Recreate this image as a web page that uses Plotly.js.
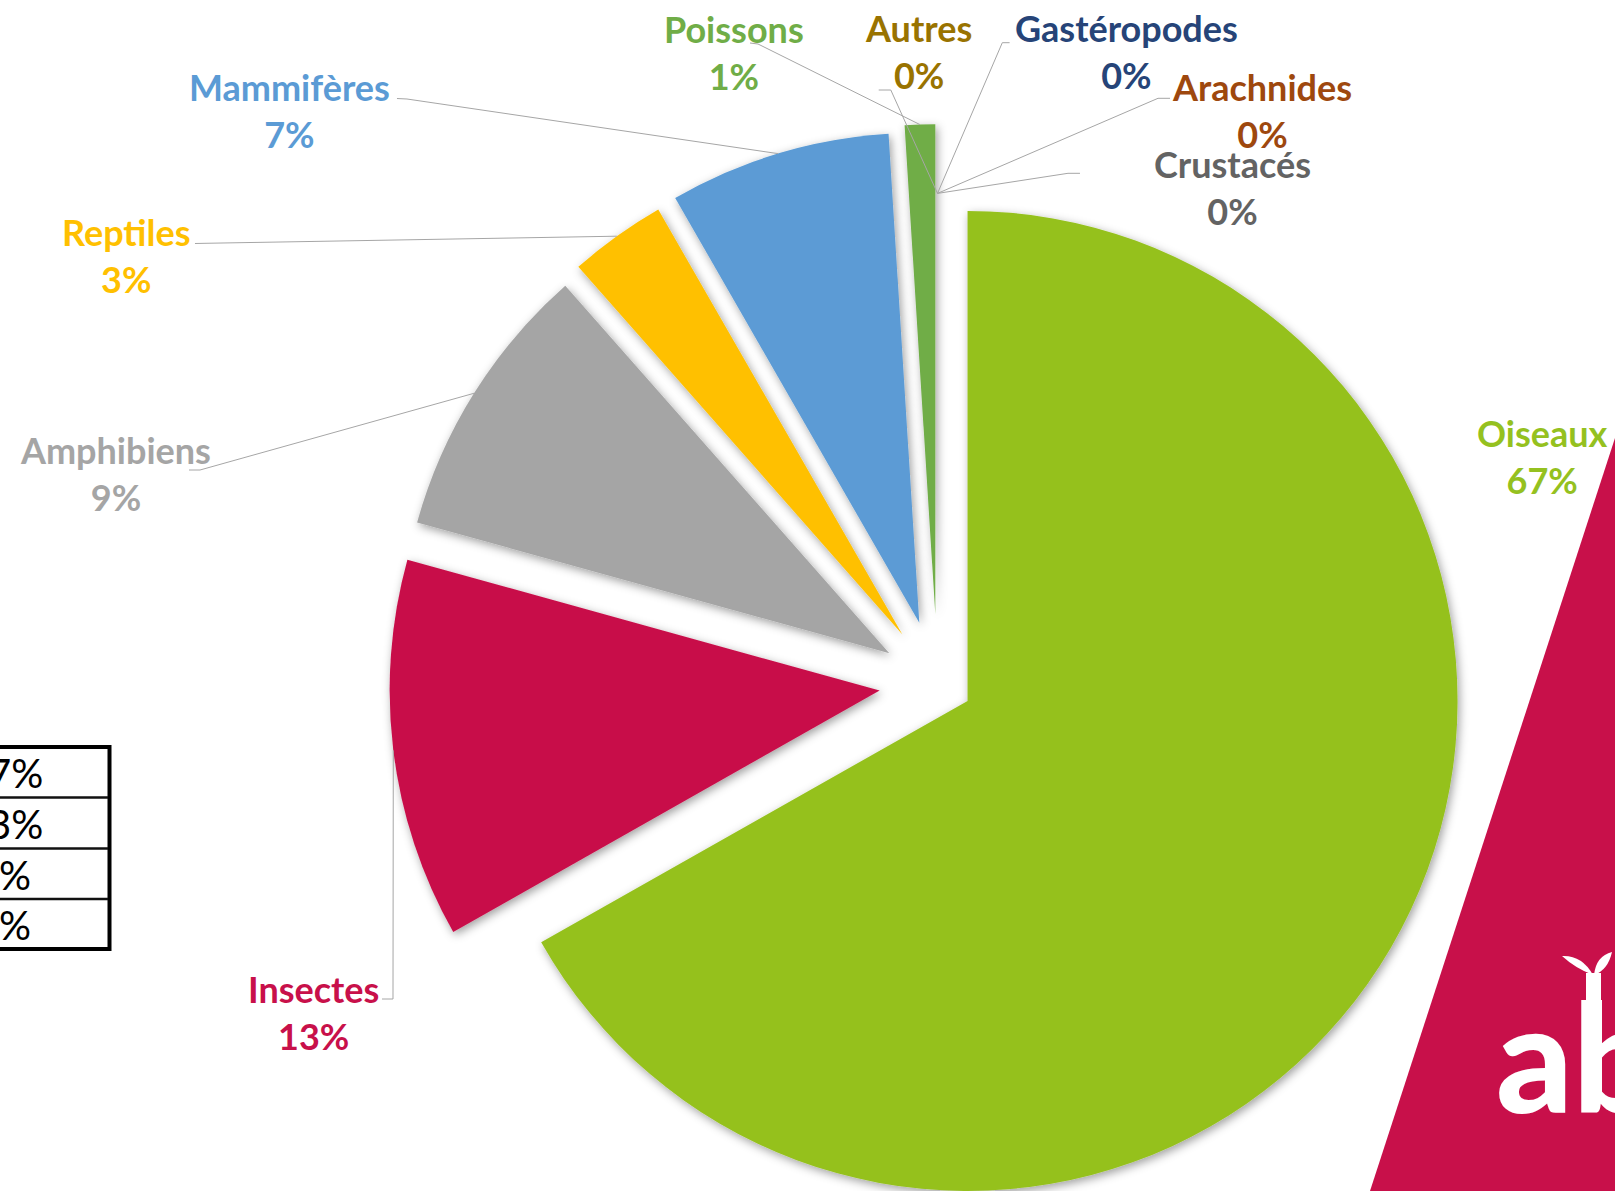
<!DOCTYPE html>
<html>
<head>
<meta charset="utf-8">
<script src="https://cdn.plot.ly/plotly-3.0.1.min.js"></script>
<style>
html,body{margin:0;padding:0;background:#fff;overflow:hidden;}
#wrap{width:1615px;height:1191px;overflow:hidden;position:relative;}
#chart{width:1615px;height:1250px;}
.pielayer path.surface{filter:url(#softShadow);}
</style>
</head>
<body>
<svg width="0" height="0" style="position:absolute">
<defs>
<filter id="softShadow" filterUnits="userSpaceOnUse" x="-3000" y="-3000" width="6000" height="6000">
<feDropShadow dx="2" dy="3" stdDeviation="5" flood-color="#000" flood-opacity="0.38"/>
</filter>
</defs>
</svg>
<div id="wrap"><div id="chart"></div></div>
<script>
// ---------------- data ----------------
const categories = ['Oiseaux','Insectes','Amphibiens','Reptiles','Mammifères','Poissons','Autres','Gastéropodes','Arachnides','Crustacés'];
const shares = [66.8, 12.5, 9.2, 3.2, 7.3, 1.0, 0, 0, 0, 0];
const tableCells = ['7%', '3%', '%', '%'];

// ---------------- styles ----------------
const sliceColors = ['#95C11F','#C8104A','#A5A5A5','#FFC000','#5B9BD5','#70AD47','#997300','#264478','#9E480E','#636363'];
const labelColors = ['#95C11F','#C8104A','#A5A5A5','#FFC000','#5B9BD5','#70AD47','#997300','#264478','#9E480E','#636363'];
const slicePull = [0.071, 0.119, 0.116, 0.123, 0.129, 0.141, 0, 0, 0, 0];

// label block centres (px) and leader-line start/elbow (px)
const labelPos = [
  [1542, 457], [313, 1012.5], [115, 473], [126, 256], [289, 111],
  [734, 53], [918, 51.5], [1126, 51.5], [1262, 111], [1232, 187.5]
];
const leaderStart = [
  null,
  [[382, 999], [393, 999]],
  [[189, 470], [200, 470]],
  [[195, 243.5], [205, 243.3]],
  [[397, 98.5], [407, 99]],
  [[750, 43], [758, 44]],
  [[878.7, 90], [890.8, 90]],
  [[1009.6, 42.7], [1002.3, 42.7]],
  [[1170, 98.3], [1158, 98.3]],
  [[1080, 173.3], [1068, 173.3]]
];

// ---------------- geometry ----------------
const W = 1615, H = 1250;
const R = 490, CX = 937.5, CY = 683.4;
const maxP = Math.max(...slicePull);
const half = R * (1 + maxP);
const px = x => x / W;
const py = y => 1 - y / H;

const total = shares.reduce((a, b) => a + b, 0);
let cum = 0;
const arcMid = shares.map((v, i) => {
  const a0 = cum / total * 2 * Math.PI;
  cum += v;
  const a1 = cum / total * 2 * Math.PI;
  const am = (a0 + a1) / 2;
  const d = R * (1 + slicePull[i]);
  return [CX + d * Math.sin(am), CY - d * Math.cos(am)];
});

const trace = {
  type: 'pie',
  values: shares,
  labels: categories,
  sort: false,
  direction: 'clockwise',
  rotation: 0,
  pull: slicePull,
  marker: {colors: sliceColors, line: {width: 0}},
  textinfo: 'none',
  hoverinfo: 'skip',
  domain: {x: [px(CX - half), px(CX + half)], y: [py(CY + half), py(CY - half)]}
};

const shapes = [];
const annotations = [];

// leader lines
leaderStart.forEach((pts, i) => {
  if (!pts) return;
  const all = pts.concat([arcMid[i]]);
  const path = all.map((p, k) => (k ? 'L' : 'M') + px(p[0]).toFixed(5) + ',' + py(p[1]).toFixed(5)).join(' ');
  shapes.push({type: 'path', xref: 'paper', yref: 'paper', path: path, line: {color: '#A6A6A6', width: 1}});
});

// labels
categories.forEach((c, i) => {
  const pct = Math.round(shares[i] / total * 100) + '%';
  annotations.push({
    xref: 'paper', yref: 'paper', x: px(labelPos[i][0]), y: py(labelPos[i][1]),
    xanchor: 'center', yanchor: 'middle', showarrow: false, align: 'center',
    text: c + '<br>' + pct,
    font: {family: 'Lato, "Open Sans", sans-serif', size: 36, weight: 700, color: labelColors[i]}
  });
});

// crimson band on the right
shapes.push({type: 'path', xref: 'paper', yref: 'paper', layer: 'below',
  path: 'M' + px(1615) + ',' + py(438) + ' L' + px(1350.8) + ',' + py(1250) + ' L' + px(1615) + ',' + py(1250) + ' Z',
  fillcolor: '#C8104A', line: {width: 0}});

// logo
annotations.push({xref: 'paper', yref: 'paper', x: px(1494), y: py(1055), xanchor: 'left', yanchor: 'middle',
  showarrow: false, text: 'ab', font: {family: 'Lato, sans-serif', size: 150, weight: 900, color: '#FFFFFF'}});
shapes.push({type: 'rect', xref: 'paper', yref: 'paper', x0: px(1586), x1: px(1601), y0: py(973), y1: py(1010),
  fillcolor: '#FFFFFF', line: {width: 0}});
shapes.push({type: 'path', xref: 'paper', yref: 'paper',
  path: 'M' + px(1593) + ',' + py(975) + ' Q' + px(1575) + ',' + py(968) + ' ' + px(1562) + ',' + py(956) + ' Q' + px(1582) + ',' + py(955) + ' ' + px(1593) + ',' + py(975) + ' Z',
  fillcolor: '#FFFFFF', line: {width: 0}});
shapes.push({type: 'path', xref: 'paper', yref: 'paper',
  path: 'M' + px(1594) + ',' + py(975) + ' Q' + px(1596) + ',' + py(956) + ' ' + px(1612) + ',' + py(952) + ' Q' + px(1608) + ',' + py(970) + ' ' + px(1594) + ',' + py(975) + ' Z',
  fillcolor: '#FFFFFF', line: {width: 0}});

// partial table on the left
const rowLines = [747, 797.5, 848.5, 899, 949];
shapes.push({type: 'rect', xref: 'paper', yref: 'paper', x0: px(-20), x1: px(109.5), y0: py(rowLines[4]), y1: py(rowLines[0]),
  fillcolor: '#FFFFFF', line: {color: '#000000', width: 4}});
for (let k = 1; k < rowLines.length - 1; k++) {
  shapes.push({type: 'line', xref: 'paper', yref: 'paper', x0: px(-20), x1: px(108), y0: py(rowLines[k]), y1: py(rowLines[k]),
    line: {color: '#111111', width: 2.5}});
}
const cellRight = [45, 45, 33, 33];
tableCells.forEach((t, k) => {
  annotations.push({xref: 'paper', yref: 'paper', x: px(cellRight[k]), y: py((rowLines[k] + rowLines[k + 1]) / 2 + 1),
    xanchor: 'right', yanchor: 'middle', showarrow: false, text: t,
    font: {family: 'Lato, "Open Sans", sans-serif', size: 40, color: '#000000'}});
});

const layout = {
  width: W, height: H,
  margin: {l: 0, r: 0, t: 0, b: 0, pad: 0},
  paper_bgcolor: '#FFFFFF', plot_bgcolor: '#FFFFFF',
  showlegend: false,
  shapes: shapes,
  annotations: annotations
};

Plotly.newPlot('chart', [trace], layout, {displayModeBar: false, staticPlot: true});
</script>
</body>
</html>
